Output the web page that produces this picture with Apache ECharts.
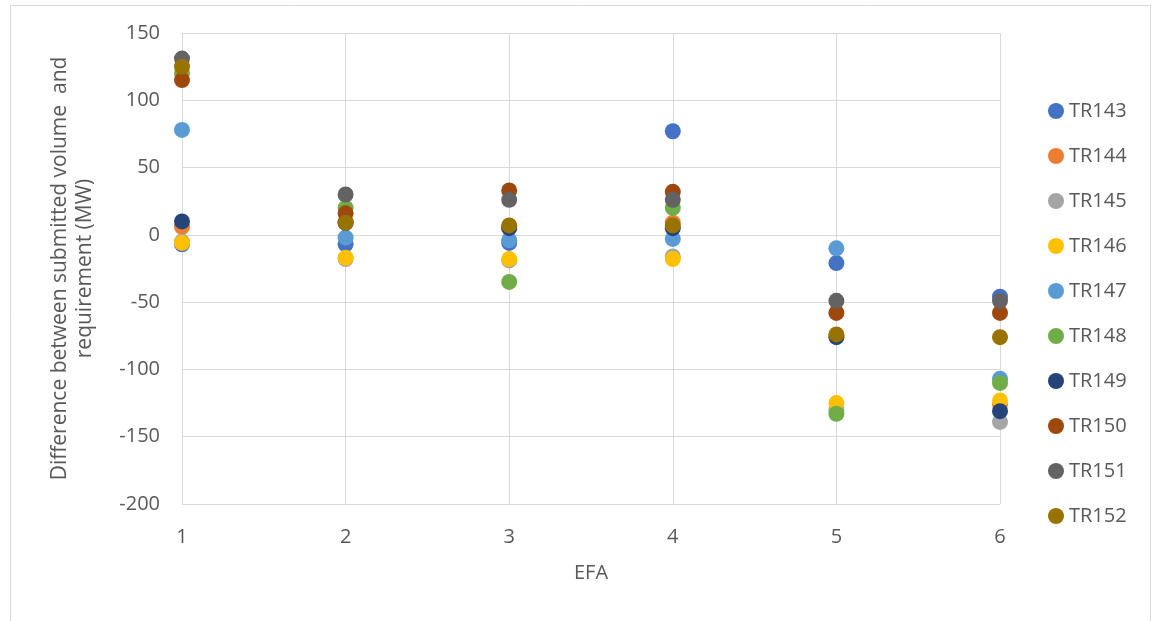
<!DOCTYPE html>
<html>
<head>
<meta charset="utf-8">
<script src="https://cdn.jsdelivr.net/npm/echarts@6/dist/echarts.min.js"></script>
<style>
  html, body { margin: 0; padding: 0; background: #ffffff; }
  #chart { width: 1161px; height: 621px; }
</style>
</head>
<body>
<div id="chart"></div>
<script>
// EFA periods along the x axis
const efa = [1, 2, 3, 4, 5, 6];

// Difference between submitted volume and requirement (MW), one array per tender round
const TR143 = [-7, -7, -6, 77, -21, -46];
const TR144 = [6, 10, 6, 9, -75, -126];
const TR145 = [-5, -18, -19, -16, -130, -139];
const TR146 = [-6, -17, -18, -18, -125, -123];
const TR147 = [78, -2, -4, -3, -10, -107];
const TR148 = [120, 20, -35, 20, -133, -110];
const TR149 = [10, 9, 5, 5, -76, -131];
const TR150 = [115, 16, 33, 32, -58, -58];
const TR151 = [131, 30, 26, 26, -49, -49];
const TR152 = [125, 9, 7, 7, -74, -76];

const seriesNames = ['TR143', 'TR144', 'TR145', 'TR146', 'TR147', 'TR148', 'TR149', 'TR150', 'TR151', 'TR152'];
const seriesValues = [TR143, TR144, TR145, TR146, TR147, TR148, TR149, TR150, TR151, TR152];
const colors = ['#4472C4', '#ED7D31', '#A5A5A5', '#FFC000', '#5B9BD5', '#70AD47', '#264478', '#9E480E', '#636363', '#997300'];

const yTicks = { min: -200, max: 150, step: 50 };

const font = 'Open Sans, Noto Sans, Liberation Sans, sans-serif';
const textColor = '#595959';

const chart = echarts.init(document.getElementById('chart'), null, { renderer: 'canvas' });

chart.setOption({
  animation: false,
  backgroundColor: '#ffffff',
  color: colors,
  graphic: [{
    type: 'rect',
    shape: { x: 10.5, y: 5.5, width: 1140, height: 640 },
    style: { fill: 'none', stroke: '#d9d9d9', lineWidth: 1 },
    silent: true
  }],
  grid: { left: 182, right: 161, top: 33, bottom: 117, containLabel: false, outerBoundsMode: 'none' },
  legend: {
    orient: 'vertical',
    left: 1043,
    top: 96,
    itemWidth: 16,
    itemHeight: 16,
    itemGap: 25,
    icon: 'circle',
    textStyle: { color: textColor, fontSize: 20, fontFamily: font },
    data: seriesNames
  },
  xAxis: {
    type: 'value',
    min: 1,
    max: 6,
    interval: 1,
    name: 'EFA',
    nameLocation: 'middle',
    nameGap: 59,
    nameTextStyle: { color: textColor, fontSize: 20, fontFamily: font },
    axisLine: { show: false },
    axisTick: { show: false },
    axisLabel: { color: textColor, fontSize: 20, fontFamily: font, margin: 23 },
    splitLine: { show: true, lineStyle: { color: '#d9d9d9', width: 1 } }
  },
  yAxis: {
    type: 'value',
    min: yTicks.min,
    max: yTicks.max,
    interval: yTicks.step,
    name: 'Difference between submitted volume  and\nrequirement (MW)',
    nameLocation: 'middle',
    nameGap: 84,
    nameTextStyle: { color: textColor, fontSize: 21, fontFamily: font, lineHeight: 25 },
    axisLine: { show: false },
    axisTick: { show: false },
    axisLabel: { color: textColor, fontSize: 20, fontFamily: font, margin: 22 },
    splitLine: { show: true, lineStyle: { color: '#d9d9d9', width: 1 } }
  },
  series: seriesNames.map((name, i) => ({
    name: name,
    type: 'scatter',
    symbol: 'circle',
    symbolSize: 16,
    itemStyle: { color: colors[i], opacity: 1 },
    z: 2 + i,
    data: efa.map((x, j) => [x, seriesValues[i][j]])
  }))
});
</script>
</body>
</html>
